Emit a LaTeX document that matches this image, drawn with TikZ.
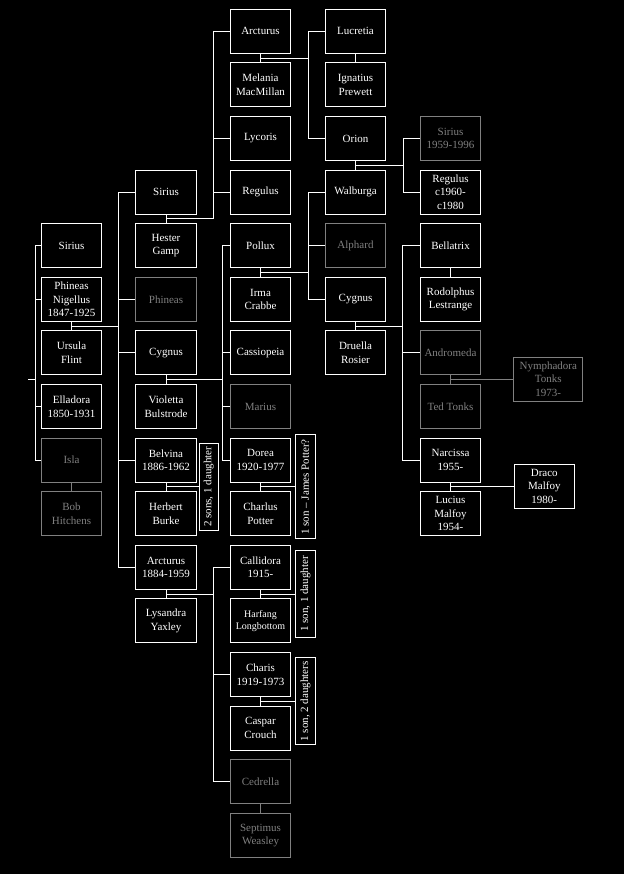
\documentclass[tikz,border=0pt]{standalone}
\usepackage{fontspec}
\setmainfont{Liberation Serif}
\usetikzlibrary{calc}
\definecolor{dimgray}{RGB}{128,128,128}
\begin{document}
\begin{tikzpicture}[x=1pt,y=-1pt,
  person/.style={draw=white, line width=1pt, text=white, minimum width=60.5pt, minimum height=44pt, inner sep=0pt, align=center, font=\fontsize{11}{13.5}\selectfont},
  ghost/.style={person, draw=dimgray, text=dimgray},
  link/.style={draw=white, line width=1pt},
  glink/.style={draw=dimgray, line width=1pt},
  note/.style={draw=white, line width=1pt, text=white, rotate=90, minimum height=19.5pt, inner sep=0pt, font=\fontsize{11}{13}\selectfont}
]
\fill[black] (0,0) rectangle (624,874);
\useasboundingbox (0,0) rectangle (624,874);

% column 1
\node[person] (sirA) at (71.5,245.7) {Sirius};
\node[person] (phn)  at (71.5,299.3) {Phineas\\Nigellus\\1847-1925};
\node[person] (urs)  at (71.5,352.9) {Ursula\\Flint};
\node[person] (ella) at (71.5,406.5) {Elladora\\1850-1931};
\node[ghost]  (isla) at (71.5,460.1) {Isla};
\node[ghost]  (bob)  at (71.5,513.7) {Bob\\Hitchens};

% column 2
\node[person] (sirB) at (166,192.1) {Sirius};
\node[person] (hes)  at (166,245.7) {Hester\\Gamp};
\node[ghost]  (phin) at (166,299.3) {Phineas};
\node[person] (cygA) at (166,352.9) {Cygnus};
\node[person] (vio)  at (166,406.5) {Violetta\\Bulstrode};
\node[person] (bel)  at (166,460.1) {Belvina\\1886-1962};
\node[person] (her)  at (166,513.7) {Herbert\\Burke};
\node[person] (arcB) at (166,567.3) {Arcturus\\1884-1959};
\node[person] (lys)  at (166,620.9) {Lysandra\\Yaxley};

% column 3
\node[person] (arcA) at (260.5,31.3) {Arcturus};
\node[person] (mel)  at (260.5,84.9) {Melania\\MacMillan};
\node[person] (lyc)  at (260.5,138.5) {Lycoris};
\node[person] (regA) at (260.5,192.1) {Regulus};
\node[person] (pol)  at (260.5,245.7) {Pollux};
\node[person] (irma) at (260.5,299.3) {Irma\\Crabbe};
\node[person] (cas)  at (260.5,352.9) {Cassiopeia};
\node[ghost]  (mar)  at (260.5,406.5) {Marius};
\node[person] (dor)  at (260.5,460.1) {Dorea\\1920-1977};
\node[person] (cha)  at (260.5,513.7) {Charlus\\Potter};
\node[person] (cal)  at (260.5,567.3) {Callidora\\1915-};
\node[person, font=\fontsize{10}{11.7}\selectfont] (harf) at (260.5,620.9) {Harfang\\Longbottom};
\node[person] (chs)  at (260.5,674.5) {Charis\\1919-1973};
\node[person] (casp) at (260.5,728.1) {Caspar\\Crouch};
\node[ghost]  (ced)  at (260.5,781.7) {Cedrella};
\node[ghost]  (sep)  at (260.5,835.3) {Septimus\\Weasley};

% column 4
\node[person] (luc)  at (355.5,31.3) {Lucretia};
\node[person] (ign)  at (355.5,84.9) {Ignatius\\Prewett};
\node[person] (ori)  at (355.5,138.5) {Orion};
\node[person] (wal)  at (355.5,192.1) {Walburga};
\node[ghost]  (alp)  at (355.5,245.7) {Alphard};
\node[person] (cygB) at (355.5,299.3) {Cygnus};
\node[person] (dru)  at (355.5,352.9) {Druella\\Rosier};

% column 5
\node[ghost]  (sirC) at (450.5,138.5) {Sirius\\1959-1996};
\node[person] (regB) at (450.5,192.1) {Regulus\\c1960-\\c1980};
\node[person] (bella) at (450.5,245.7) {Bellatrix};
\node[person] (rod)  at (450.5,299.3) {Rodolphus\\Lestrange};
\node[ghost]  (andr) at (450.5,352.9) {Andromeda};
\node[ghost]  (ted)  at (450.5,406.5) {Ted Tonks};
\node[person] (nar)  at (450.5,460.1) {Narcissa\\1955-};
\node[person] (lucm) at (450.5,513.7) {Lucius\\Malfoy\\1954-};

% column 6
\node[ghost, minimum width=68.7pt] (nym) at (548.3,379.2) {Nymphadora\\Tonks\\1973-};
\node[person] (dra) at (544.3,486.3) {Draco\\Malfoy\\1980-};

% notes
\node[note, minimum width=86.7pt] (n1) at (208.8,486.9) {2 sons, 1 daughter};
\node[note, minimum width=104pt]  (n2) at (305.3,486.9) {1 son – James Potter?};
\node[note, minimum width=86.6pt] (n3) at (305.5,594.1) {1 son, 1 daughter};
\node[note, minimum width=86.7pt] (n4) at (305.5,701.3) {1 son, 2 daughters};

% bracket x positions
\coordinate (bx0) at (35,0);
\coordinate (bx1) at (118.3,0);
\coordinate (bx2) at (213.3,0);
\coordinate (bx3) at (222.3,0);
\coordinate (bx4) at (308.3,0);
\coordinate (bx5) at (403.3,0);
\coordinate (bx6) at (402.3,0);

% couple midpoints
\coordinate (m1)  at ($(phn.south)!0.5!(urs.north)$);
\coordinate (m2)  at ($(sirB.south)!0.5!(hes.north)$);
\coordinate (m3)  at ($(cygA.south)!0.5!(vio.north)$);
\coordinate (m4)  at ($(bel.south)!0.5!(her.north)$);
\coordinate (m5)  at ($(arcB.south)!0.5!(lys.north)$);
\coordinate (m6)  at ($(arcA.south)!0.5!(mel.north)$);
\coordinate (m7)  at ($(pol.south)!0.5!(irma.north)$);
\coordinate (m8)  at ($(dor.south)!0.5!(cha.north)$);
\coordinate (m9)  at ($(cal.south)!0.5!(harf.north)$);
\coordinate (m10) at ($(chs.south)!0.5!(casp.north)$);
\coordinate (m11) at ($(ori.south)!0.5!(wal.north)$);
\coordinate (m12) at ($(cygB.south)!0.5!(dru.north)$);
\coordinate (m13) at ($(andr.south)!0.5!(ted.north)$);
\coordinate (m14) at ($(nar.south)!0.5!(lucm.north)$);

% spouse links
\draw[link] (phn.south) -- (urs.north);
\draw[link] (sirB.south) -- (hes.north);
\draw[link] (cygA.south) -- (vio.north);
\draw[link] (bel.south) -- (her.north);
\draw[link] (arcB.south) -- (lys.north);
\draw[link] (arcA.south) -- (mel.north);
\draw[link] (luc.south) -- (ign.north);
\draw[link] (ori.south) -- (wal.north);
\draw[link] (pol.south) -- (irma.north);
\draw[link] (dor.south) -- (cha.north);
\draw[link] (cal.south) -- (harf.north);
\draw[link] (chs.south) -- (casp.north);
\draw[link] (cygB.south) -- (dru.north);
\draw[link] (bella.south) -- (rod.north);
\draw[link] (nar.south) -- (lucm.north);
\draw[glink] (isla.south) -- (bob.north);
\draw[glink] (ced.south) -- (sep.north);
\draw[glink] (andr.south) -- (ted.north);

% top family
\coordinate (stub) at (28.3,379.5);
\draw[link] (stub) -- (stub -| bx0);
\draw[link] (sirA.west -| bx0) -- (isla.west -| bx0);
\foreach \c in {sirA,phn,ella,isla} \draw[link] (\c.west -| bx0) -- (\c.west);

% Phineas Nigellus + Ursula
\draw[link] (m1) -- (m1 -| bx1);
\draw[link] (sirB.west -| bx1) -- (arcB.west -| bx1);
\foreach \c in {sirB,phin,cygA,bel,arcB} \draw[link] (\c.west -| bx1) -- (\c.west);

% Sirius + Hester
\draw[link] (m2) -- (m2 -| bx2);
\draw[link] (arcA.west -| bx2) -- (m2 -| bx2);
\foreach \c in {arcA,lyc,regA} \draw[link] (\c.west -| bx2) -- (\c.west);

% Cygnus + Violetta
\draw[link] (m3) -- (m3 -| bx3);
\draw[link] (pol.west -| bx3) -- (dor.west -| bx3);
\foreach \c in {pol,cas,mar,dor} \draw[link] (\c.west -| bx3) -- (\c.west);

% Arcturus + Lysandra
\draw[link] (m5) -- (m5 -| bx2);
\draw[link] (cal.west -| bx2) -- (ced.west -| bx2);
\foreach \c in {cal,chs,ced} \draw[link] (\c.west -| bx2) -- (\c.west);

% Arcturus + Melania
\draw[link] (m6) -- (m6 -| bx4);
\draw[link] (luc.west -| bx4) -- (ori.west -| bx4);
\foreach \c in {luc,ori} \draw[link] (\c.west -| bx4) -- (\c.west);

% Pollux + Irma
\draw[link] (m7) -- (m7 -| bx4);
\draw[link] (wal.west -| bx4) -- (cygB.west -| bx4);
\foreach \c in {wal,alp,cygB} \draw[link] (\c.west -| bx4) -- (\c.west);

% Orion + Walburga
\draw[link] (m11) -- (m11 -| bx5);
\draw[link] (sirC.west -| bx5) -- (regB.west -| bx5);
\foreach \c in {sirC,regB} \draw[link] (\c.west -| bx5) -- (\c.west);

% Cygnus + Druella
\draw[link] (m12) -- (m12 -| bx6);
\draw[link] (bella.west -| bx6) -- (nar.west -| bx6);
\foreach \c in {bella,andr,nar} \draw[link] (\c.west -| bx6) -- (\c.west);

% notes and single children
\draw[link] (m4) -- (m4 -| n1.north);
\draw[link] (m8) -- (m8 -| n2.north);
\draw[link] (m9) -- (m9 -| n3.north);
\draw[link] (m10) -- (m10 -| n4.north);
\draw[glink] (m13) -- (m13 -| nym.west);
\draw[link] (m14) -- (m14 -| dra.west);
\end{tikzpicture}
\end{document}
